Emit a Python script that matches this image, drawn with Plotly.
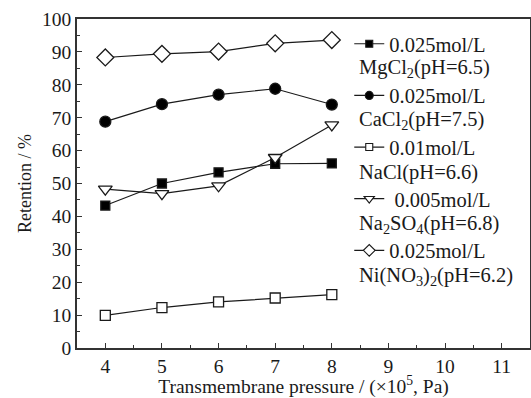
import plotly.graph_objects as go

pressure = [4, 5, 6, 7, 8]
mgcl2 = [43.3, 50.0, 53.4, 56.0, 56.1]
cacl2 = [68.8, 74.1, 77.0, 78.8, 74.0]
nacl = [9.9, 12.3, 14.0, 15.2, 16.2]
na2so4 = [48.3, 46.9, 49.3, 57.9, 67.8]
ni_no3 = [88.3, 89.4, 90.1, 92.6, 93.6]

concentrations = ["0.025mol/L", "0.025mol/L", "0.01mol/L", " 0.005mol/L", "0.025mol/L"]
salts = [
    "MgCl<sub>2</sub>(pH=6.5)",
    "CaCl<sub>2</sub>(pH=7.5)",
    "NaCl(pH=6.6)",
    "Na<sub>2</sub>SO<sub>4</sub>(pH=6.8)",
    "Ni(NO<sub>3</sub>)<sub>2</sub>(pH=6.2)",
]
series = [mgcl2, cacl2, nacl, na2so4, ni_no3]
symbols = ["square", "circle", "square", "triangle-down", "diamond"]
fills = ["#000000", "#000000", "#ffffff", "#ffffff", "#ffffff"]
sizes = [9, 11, 10, 12, 13]
legend_sizes = [7, 8, 7, 9, 9]

FONT = "Liberation Serif"
fig = go.Figure()
for conc, salt, ys, sym, fc, sz in zip(concentrations, salts, series, symbols, fills, sizes):
    fig.add_trace(go.Scatter(
        x=pressure, y=ys, name=conc + " " + salt, mode="lines+markers", showlegend=False,
        line=dict(color="#1a1a1a", width=1.2),
        marker=dict(symbol=sym, size=sz, color=fc,
                    line=dict(color="#1a1a1a", width=1.3)),
    ))
# legend-only entries with smaller symbols (no data); second text line is an annotation
for i, (conc, sym, fc, sz) in enumerate(zip(concentrations, symbols, fills, legend_sizes)):
    fig.add_trace(go.Scatter(
        x=[None], y=[None], name=conc, mode="lines+markers", legendgroup=f"g{i}",
        line=dict(color="#1a1a1a", width=1.2),
        marker=dict(symbol=sym, size=sz, color=fc,
                    line=dict(color="#1a1a1a", width=1.1)),
    ))

PLOT_TOP, PLOT_BOTTOM = 19, 348
for i, salt in enumerate(salts):
    ypx = 68 + 52 * i
    fig.add_annotation(
        xref="paper", yref="paper", x=(357 - 77) / 453, y=(PLOT_BOTTOM - ypx) / (PLOT_BOTTOM - PLOT_TOP),
        xanchor="left", yanchor="middle", text=salt, showarrow=False,
        font=dict(family=FONT, size=20.5, color="#1a1a1a"),
    )

axis_common = dict(
    showline=True, mirror=True, linecolor="#333333", linewidth=1.5,
    ticks="inside", ticklen=5, tickwidth=1.3, tickcolor="#333333",
    showgrid=False, zeroline=False,
    tickfont=dict(family=FONT, size=19.5, color="#1a1a1a"),
)
fig.update_xaxes(range=[3.5, 11.5], dtick=1, tick0=4,
                 minor=dict(ticks="inside", ticklen=3, dtick=0.5, tick0=4, tickcolor="#333333"),
                 title=dict(text="Transmembrane pressure / (×10<sup>5</sup>, Pa)",
                            font=dict(family=FONT, size=19.5, color="#1a1a1a"), standoff=2),
                 **axis_common)
fig.update_yaxes(range=[0, 100], dtick=10,
                 minor=dict(ticks="inside", ticklen=3, dtick=5, tickcolor="#333333"),
                 title=dict(text="Retention / %",
                            font=dict(family=FONT, size=18, color="#1a1a1a"), standoff=6),
                 **axis_common)

fig.update_layout(
    width=531, height=398,
    margin=dict(l=77, r=1, t=19, b=50, autoexpand=False),
    paper_bgcolor="white", plot_bgcolor="white",
    legend=dict(x=0.601, y=0.985, xanchor="left", yanchor="top", valign="top",
                font=dict(family=FONT, size=20.5, color="#1a1a1a"),
                bgcolor="rgba(0,0,0,0)", tracegroupgap=22, itemwidth=30),
    showlegend=True,
)
fig.write_html("out.html")
